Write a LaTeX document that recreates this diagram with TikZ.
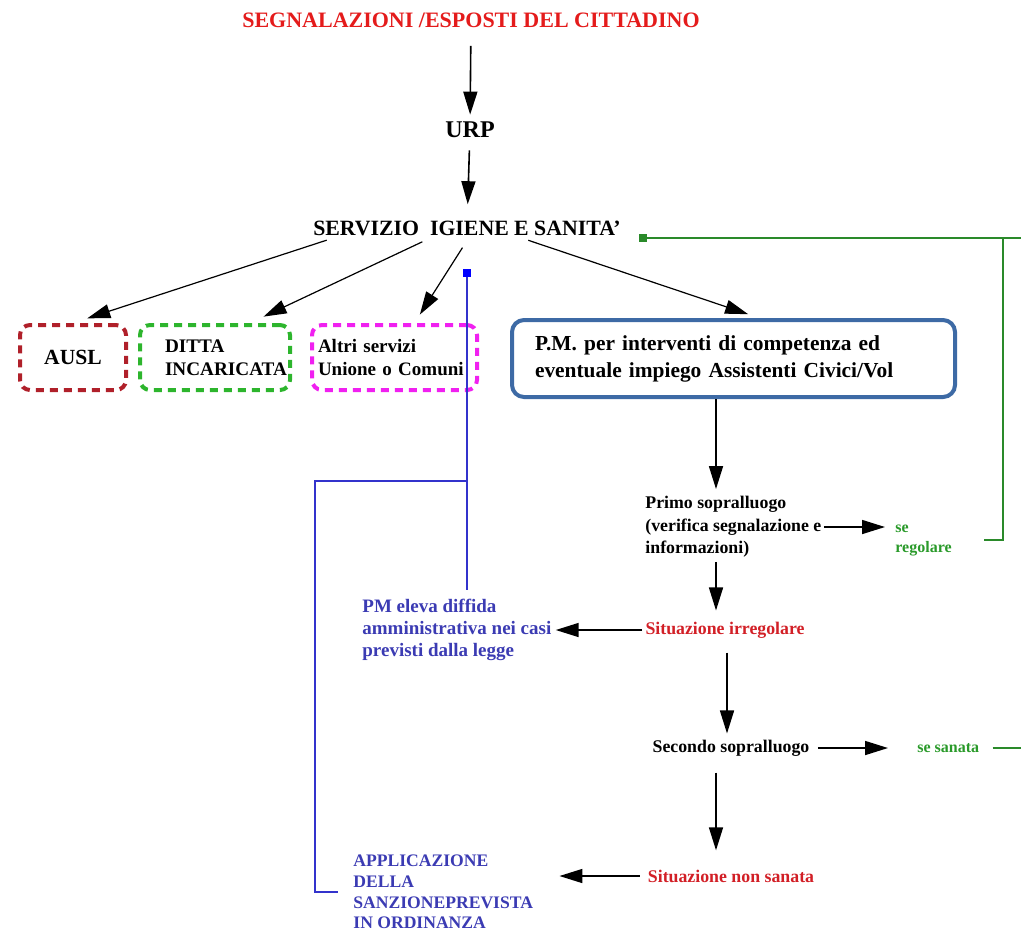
\documentclass[tikz,border=0pt]{standalone}
\usepackage{fontspec}
\setmainfont{Liberation Serif}
\usetikzlibrary{arrows.meta}
\definecolor{titlered}{HTML}{E41B1B}
\definecolor{sitred}{HTML}{D21F26}
\definecolor{auslred}{HTML}{B0202A}
\definecolor{dittagreen}{HTML}{2DB52D}
\definecolor{altrimag}{HTML}{F020F0}
\definecolor{pmblue}{HTML}{3D6AA5}
\definecolor{okgreen}{HTML}{2A9A2A}
\definecolor{linegreen}{HTML}{2A8A2A}
\definecolor{pmtext}{HTML}{3B3BB3}
\definecolor{lineblue}{HTML}{3333CC}
\newcommand\fsz[2]{\fontsize{#1}{#2}\selectfont}

\begin{document}
\begin{tikzpicture}[x=0.5pt, y=-0.5pt,
  lbl/.style={font=\bfseries, inner sep=0pt, align=left},
  arr/.style={-{Triangle[length=11.5pt,width=7pt]}, line width=0.8pt},
  dbox/.style={draw, line width=2pt, dash pattern=on 4pt off 3pt, rounded corners=5pt,
    minimum height=32.5pt, inner ysep=0pt, align=left, font=\bfseries},
  gline/.style={draw=linegreen, line width=0.8pt},
  bline/.style={draw=lineblue, line width=0.8pt},
  linkmark/.style={minimum size=4pt, inner sep=0pt}]
\useasboundingbox (0,0) rectangle (1021,933);

% top chain
\node[lbl, text=titlered, font=\bfseries\fsz{11}{13}] (cit) at (471,20) {SEGNALAZIONI /ESPOSTI DEL CITTADINO};
\node[lbl, font=\bfseries\fsz{12}{14}] (urp) at (470,130) {URP};
\node[lbl, font=\bfseries\fsz{10.9}{13}] (sis) at (467,228) {SERVIZIO\ \ IGIENE E SANITA’};

\draw[arr, shorten <=9pt, shorten >=3.5pt] (cit) -- (urp);
\draw[arr, shorten <=6pt, shorten >=8pt] (urp) -- (sis);

% offices
\node[dbox, draw=auslred, minimum width=53pt, align=center, font=\bfseries\fsz{10.8}{12}] (ausl) at (73,357.5) {AUSL};
\node[dbox, draw=dittagreen, text width=50pt, inner xsep=12.5pt, font=\bfseries\fsz{9.6}{11.5}] (ditta) at (215,357.5) {DITTA\\INCARICATA};
\node[dbox, draw=altrimag, text width=76.5pt, inner xsep=3pt, font=\bfseries\fsz{9.5}{11.5}] (altri) at (394.5,357.5) {Altri servizi\\Unione o Comuni};
\node[draw=pmblue, line width=2pt, rounded corners=6pt, minimum height=38.5pt, text width=198.5pt,
  inner xsep=11.5pt, align=left, font=\bfseries\fsz{10.7}{13.5}] (pm) at (733.5,358.5)
  {P.M. per interventi di competenza ed\\eventuale impiego Assistenti Civici/Vol};

\draw[arr, line width=0.6pt, shorten <=7pt, shorten >=7.5pt] ([xshift=-63.5pt]sis.south) -- (ausl.north);
\draw[arr, line width=0.6pt, shorten <=7pt, shorten >=7.5pt] ([xshift=-16pt]sis.south) -- ([xshift=17.5pt]ditta.north);
\draw[arr, line width=0.6pt, shorten <=7pt, shorten >=5pt] ([xshift=1.5pt]sis.south) -- ([xshift=10pt]altri.north);
\draw[arr, line width=0.6pt, shorten <=7pt, shorten >=6pt] ([xshift=24pt]sis.south) -- ([xshift=13pt]pm.north);

% link markers
\node[linkmark, fill=linegreen] (gsq) at (643,238) {};
\node[linkmark, fill=blue] (bsq) at (467,273) {};

% checks
\node[lbl, anchor=west, font=\bfseries\fsz{8.9}{11.25}] (primo) at (645,527)
  {Primo sopralluogo\\(verifica segnalazione e\\informazioni)};
\node[lbl, anchor=west, text=okgreen, font=\bfseries\fsz{8}{10}] (reg) at (895,540) {se\\regolare};
\node[lbl, text=sitred, font=\bfseries\fsz{8.9}{11}] (irr) at (725,630) {Situazione irregolare};
\node[lbl, anchor=west, text=pmtext, font=\bfseries\fsz{9.5}{11}] (diff) at (362,630)
  {PM eleva diffida\\amministrativa nei casi\\previsti dalla legge};
\node[lbl, font=\bfseries\fsz{8.9}{11}] (sec) at (731,748) {Secondo sopralluogo};
\node[lbl, anchor=west, text=okgreen, font=\bfseries\fsz{8}{10}] (san) at (917,748) {se sanata};
\node[lbl, text=sitred, font=\bfseries\fsz{8.9}{11}] (non) at (731,876) {Situazione non sanata};
\node[lbl, anchor=west, text=pmtext, font=\bfseries\fsz{8.8}{10.4}] (app) at (353,892)
  {APPLICAZIONE\\DELLA\\SANZIONEPREVISTA\\IN ORDINANZA};

\coordinate (ca) at (716,0);
\coordinate (cb) at (727,0);
\draw[arr, shorten >=3.5pt] (pm.south -| ca) -- (primo.north -| ca);
\draw[arr, shorten <=2pt, shorten >=5.5pt] (primo.south -| ca) -- (irr.north -| ca);
\draw[arr, shorten <=7pt, shorten >=3pt] (irr.south -| cb) -- (sec.north -| cb);
\draw[arr, shorten <=8pt, shorten >=9.5pt] (sec.south -| ca) -- (non.north -| ca);

\draw[arr, shorten <=1pt, shorten >=5pt] (primo.east) -- (primo.east -| reg.west);
\draw[arr, shorten <=1.5pt, shorten >=2pt] (irr.west) -- (irr.west -| diff.east);
\draw[arr, shorten <=4pt, shorten >=14.5pt] (sec.east) -- (sec.east -| san.west);
\draw[arr, shorten <=4pt, shorten >=13pt] (non.west) -- (non.west -| app.east);

% green returns
\coordinate (gE) at (1021,238);
\coordinate (gV) at (1003,238);
\coordinate (gS) at (1021,748);
\draw[gline] (gsq) -- (gE);
\draw[gline, shorten >=16pt] (gV) |- (reg.east);
\draw[gline, shorten <=6.5pt] (san.east) -- (gS);

% blue branch
\coordinate (bD) at (467,590);
\coordinate (bJ) at (467,481);
\coordinate (bL) at (315,481);
\draw[bline] (bsq) -- (bD);
\draw[bline, shorten >=7.5pt] (bJ) -- (bL) |- (app.west);
\end{tikzpicture}
\end{document}
